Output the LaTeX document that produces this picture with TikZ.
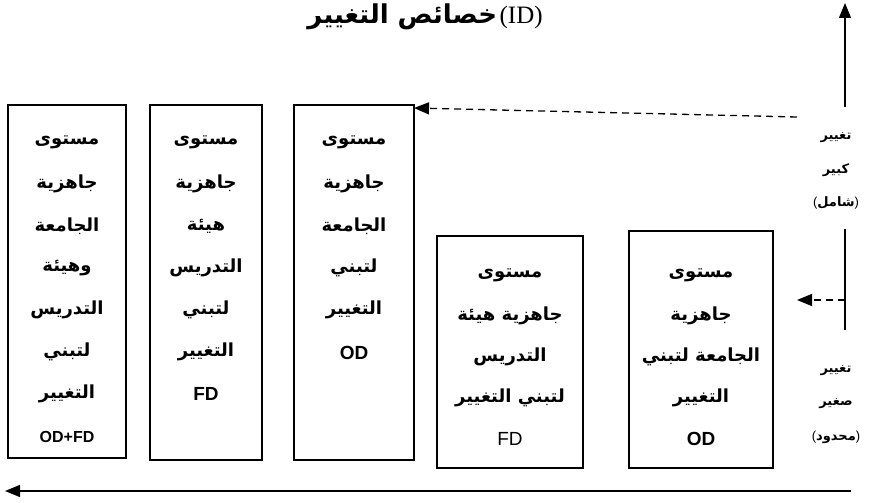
\documentclass[tikz,border=0pt]{standalone}
\usepackage{fontspec}
\setmainfont{Liberation Serif}
\newfontfamily\arabicfont[Script=Arabic]{DejaVu Sans}
\newfontfamily\latinsans{Liberation Sans}
\TeXXeTstate=1
\usetikzlibrary{arrows.meta,calc}
\tikzset{
  box/.style={draw, line width=1.3pt, anchor=north west, inner sep=0pt, outer sep=0pt},
  atxt/.style={font=\arabicfont\bfseries\fontsize{18}{20}\selectfont, inner sep=0pt},
  stxt/.style={font=\arabicfont\bfseries\fontsize{13}{15}\selectfont, inner sep=0pt},
  ltxt/.style={font=\latinsans\bfseries\fontsize{19}{21}\selectfont, inner sep=0pt},
  arr/.style={line width=1.4pt, -{Triangle[length=15pt,width=12pt]}},
  darr/.style={line width=1.3pt, dash pattern=on 7pt off 5pt, -{Triangle[length=15pt,width=12pt]}},
}
\begin{document}
\begin{tikzpicture}[x=1pt,y=-1pt]
\useasboundingbox (0,0) rectangle (875,503);
% title
\node[inner sep=0pt] (title) at (425,17) {{\arabicfont\bfseries\fontsize{26}{29}\selectfont\beginR خصائص التغيير\endR}\ {\fontsize{25}{28}\selectfont(ID)}};
% boxes
\node[box, minimum width=118pt, minimum height=353pt] (b1) at (8,105) {};
\node[box, minimum width=112pt, minimum height=355pt] (b2) at (150,105) {};
\node[box, minimum width=120pt, minimum height=355pt] (b3) at (294,105) {};
\node[box, minimum width=146pt, minimum height=232pt] (b4) at (437,236) {};
\node[box, minimum width=144pt, minimum height=237pt] (b5) at (629,231) {};
% box 1 text
\foreach \t [count=\i] in {مستوى,جاهزية,الجامعة,وهيئة,التدريس,لتبني,التغيير}
  \node[atxt] (ta\i) at (67,{142+42*(\i-1)}) {\beginR\t\endR};
\node[ltxt, font=\latinsans\bfseries\fontsize{16}{18}\selectfont] (ta8) at (67,437) {OD+FD};
% box 2 text
\foreach \t [count=\i] in {مستوى,جاهزية,هيئة,التدريس,لتبني,التغيير}
  \node[atxt] (tb\i) at (206,{142+42*(\i-1)}) {\beginR\t\endR};
\node[ltxt] (tb7) at (206,394) {FD};
% box 3 text
\foreach \t [count=\i] in {مستوى,جاهزية,الجامعة,لتبني,التغيير}
  \node[atxt] (tc\i) at (354,{142+42*(\i-1)}) {\beginR\t\endR};
\node[ltxt] (tc6) at (354,353) {OD};
% box 4 text
\node[atxt] (td1) at (510,275) {\beginR مستوى\endR};
\node[atxt] (td2) at (510,316) {\beginR جاهزية هيئة\endR};
\node[atxt] (td3) at (510,357) {\beginR التدريس\endR};
\node[atxt] (td4) at (510,398) {\beginR لتبني التغيير\endR};
\node[ltxt, font=\latinsans\fontsize{19}{21}\selectfont] (td5) at (510,439) {FD};
% box 5 text
\node[atxt] (te1) at (701,275) {\beginR مستوى\endR};
\node[atxt] (te2) at (701,316) {\beginR جاهزية\endR};
\node[atxt] (te3) at (701,357) {\beginR الجامعة لتبني\endR};
\node[atxt] (te4) at (701,398) {\beginR التغيير\endR};
\node[ltxt] (te5) at (701,439) {OD};
% right labels
\node[stxt] (r1) at (836,138) {\beginR تغيير\endR};
\node[stxt] (r2) at (836,170) {\beginR كبير\endR};
\node[stxt] (r3) at (836,203) {{\latinsans\mdseries(}\beginR شامل\endR{\latinsans\mdseries)}};
\node[stxt] (r4) at (836,371) {\beginR تغيير\endR};
\node[stxt] (r5) at (836,404) {\beginR صغير\endR};
\node[stxt] (r6) at (836,437) {{\latinsans\mdseries(}\beginR محدود\endR{\latinsans\mdseries)}};
% coordinates
\coordinate (upB) at (845,107);
\coordinate (upT) at (845,3);
\coordinate (vA) at (845,229);
\coordinate (vB) at (845,330);
\coordinate (dS) at (845,300);
\coordinate (dT) at (797,300);
\coordinate (topS) at (797,117);
\coordinate (botR) at (851,491);
\coordinate (botL) at (5,491);
% connectors
\draw[arr] (upB) -- (upT);
\draw[line width=1.4pt] (vA) -- (vB);
\draw[darr] (dS) -- (dT);
\draw[darr] (topS) -- ($(b3.north east)+(0,3)$);
\draw[arr] (botR) -- (botL);
\end{tikzpicture}
\end{document}
